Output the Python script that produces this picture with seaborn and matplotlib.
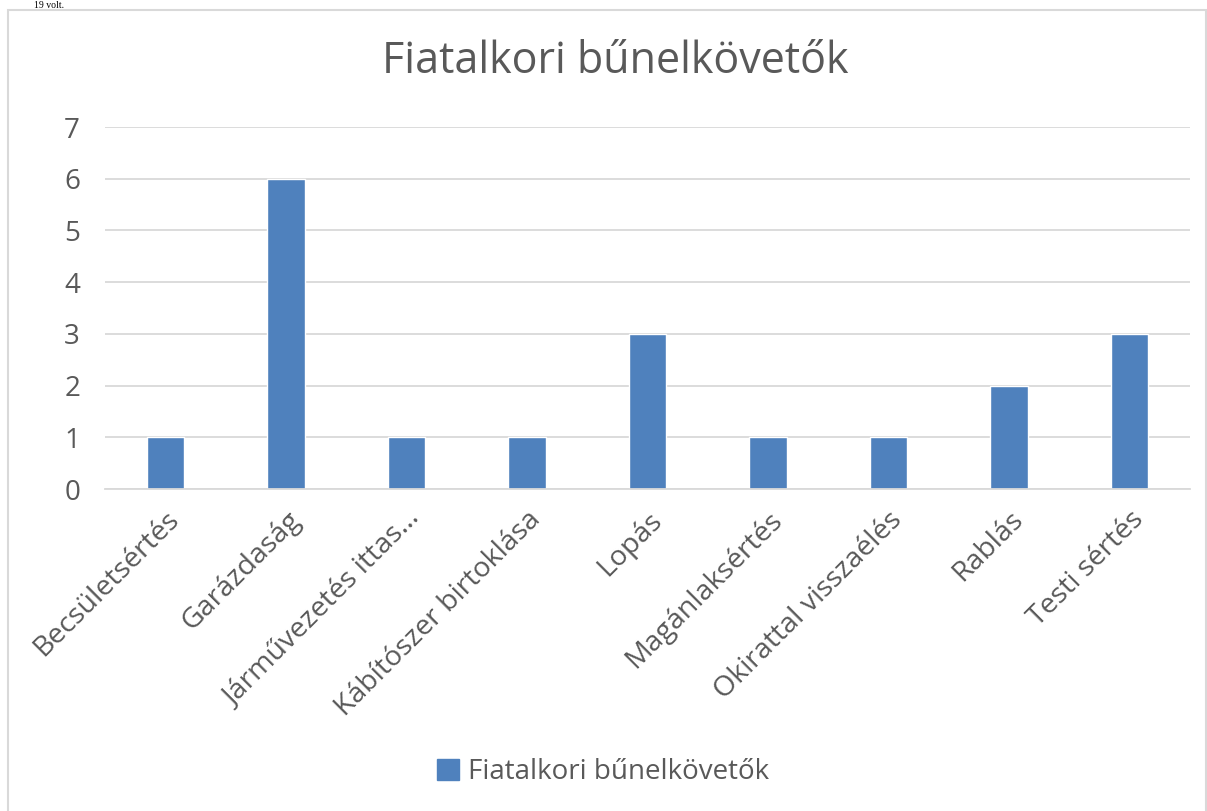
import matplotlib
matplotlib.use("Agg")
import matplotlib.pyplot as plt
import seaborn as sns
import pandas as pd
from matplotlib.patches import Rectangle

categories = ["Becsületsértés", "Garázdaság", "Járművezetés ittas…", "Kábítószer birtoklása",
              "Lopás", "Magánlaksértés", "Okirattal visszaélés", "Rablás", "Testi sértés"]
values = [1, 6, 1, 1, 3, 1, 1, 2, 3]
series_name = "Fiatalkori bűnelkövetők"
yticks = [0, 1, 2, 3, 4, 5, 6, 7]

sns.set_theme(style="white")
plt.rcParams['font.family'] = ['Open Sans', 'DejaVu Sans']

df = pd.DataFrame({"cat": categories, "val": values, "series": series_name})

fig = plt.figure(figsize=(12.07, 8.11), dpi=100)
ax = fig.add_axes([105/1207, 1 - 489/811, (1190-105)/1207, (489-127)/811])

sns.barplot(data=df, x="cat", y="val", hue="series", palette=["#4f81bd"],
            width=0.31, ax=ax, legend=True, saturation=1)

ax.set_ylim(0, 7)
ax.set_xlim(-0.5, len(categories) - 0.5)
ax.set_yticks(yticks)
ax.set_yticklabels([str(t) for t in yticks], fontsize=20, color="#595959")
ax.set_xticks(range(len(categories)))
ax.set_xticklabels(categories, rotation=45, ha="right", rotation_mode="anchor",
                   fontsize=20.5, color="#595959")
ax.tick_params(axis="y", length=0, pad=18)
ax.tick_params(axis="x", length=0, pad=12)
ax.set_xlabel("")
ax.set_ylabel("")
ax.yaxis.grid(True, color="#d9d9d9", linewidth=1.3)
ax.set_axisbelow(True)
for s in ["top", "right", "left"]:
    ax.spines[s].set_visible(False)
ax.spines["bottom"].set_color("#d9d9d9")
ax.spines["bottom"].set_linewidth(1.3)

leg = ax.get_legend()
if leg is not None:
    leg.remove()
handles = [Rectangle((0, 0), 1, 1, color="#4f81bd")]
fig.legend(handles, [series_name], loc="center", bbox_to_anchor=(603/1207, 1 - 772/811),
           frameon=False, fontsize=20, labelcolor="#595959", handlelength=0.8,
           handleheight=0.8, handletextpad=0.3)

fig.text(615/1207, 1 - 62/811, series_name, ha="center", va="center",
         fontsize=31, color="#595959")

# chart border
fig.patches.append(Rectangle((8/1207, -0.01), (1206-8)/1207, (811-10)/811 + 0.01,
                             transform=fig.transFigure, fill=False,
                             edgecolor="#d9d9d9", linewidth=1.5))
# document text above chart
fig.text(0.028, 1 - 1/811, "19 volt.", ha="left", va="top", fontsize=7,
         color="black", family=["Liberation Serif", "DejaVu Serif"])

fig.savefig("out.png", dpi=100)
